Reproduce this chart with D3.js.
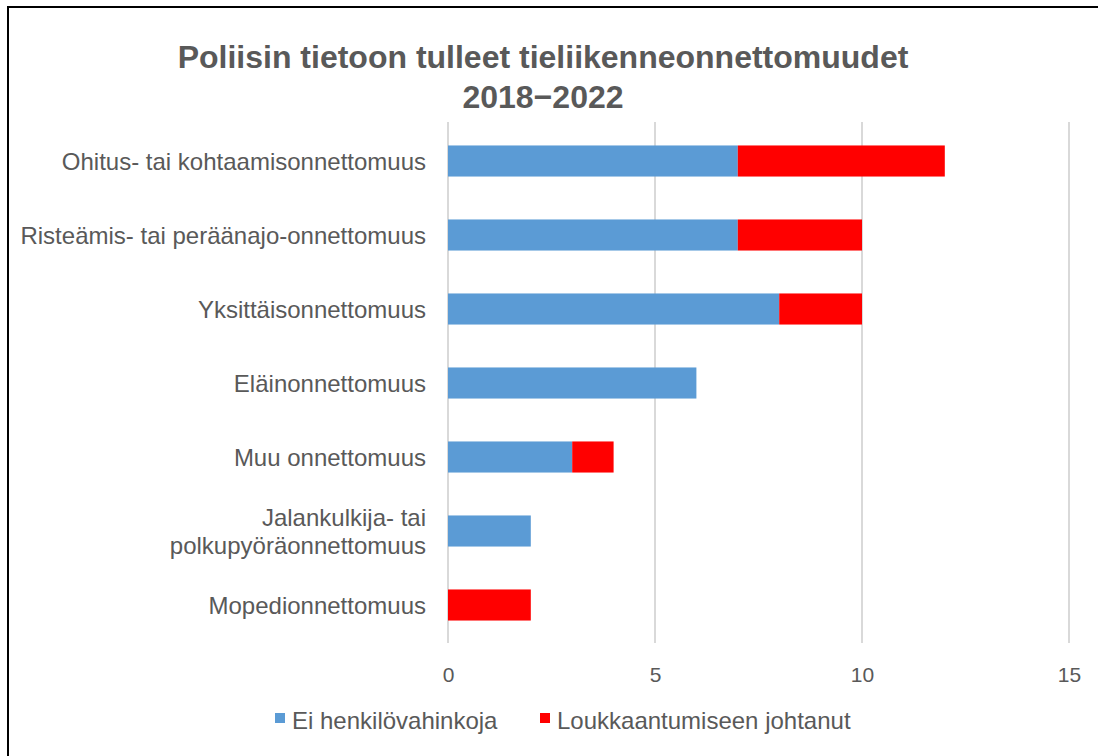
<!DOCTYPE html>
<html>
<head>
<meta charset="utf-8">
<script src="https://cdn.jsdelivr.net/npm/d3@7"></script>
<style>
  body { margin: 0; background: #fff; }
  svg { display: block; font-family: "Liberation Sans", Arial, sans-serif; }
</style>
</head>
<body>
<div id="chart"></div>
<script>
// data
var categories = [
    "Ohitus- tai kohtaamisonnettomuus",
    "Risteämis- tai peräänajo-onnettomuus",
    "Yksittäisonnettomuus",
    "Eläinonnettomuus",
    "Muu onnettomuus",
    "Jalankulkija- tai|polkupyöräonnettomuus",
    "Mopedionnettomuus"
];
var noInjury = [7, 7, 8, 6, 3, 2, 0];
var injury = [5, 3, 2, 0, 1, 0, 2];
var seriesNames = ["Ei henkilövahinkoja", "Loukkaantumiseen johtanut"];
var seriesColors = ["#5b9bd5", "#ff0000"];
var xTicks = [0, 5, 10, 15];

var W = 1098, H = 756;
var margin = { top: 124, right: 29, bottom: 114, left: 448 },
    width = W - margin.left - margin.right,
    height = H - margin.top - margin.bottom;

var svg = d3.select("#chart").append("svg")
    .attr("width", W)
    .attr("height", H);

// outer frame
svg.append("rect")
    .attr("x", 8).attr("y", 7)
    .attr("width", W).attr("height", H)
    .attr("fill", "none")
    .attr("stroke", "#000")
    .attr("stroke-width", 2);

// title
var title = svg.append("text")
    .attr("text-anchor", "middle")
    .attr("fill", "#595959")
    .style("font-size", "32px")
    .style("font-weight", "bold");
title.append("tspan").attr("x", 543).attr("y", 68).text("Poliisin tietoon tulleet tieliikenneonnettomuudet");
title.append("tspan").attr("x", 543).attr("y", 108).text("2018\u22122022");

var g = svg.append("g")
    .attr("transform", "translate(" + margin.left + "," + margin.top + ")");

var x = d3.scaleLinear().domain([0, 15]).range([0, width]);
var y = d3.scaleBand().domain(categories).range([0, height]).paddingInner(0.58).paddingOuter(0.29);

// gridlines
g.append("g")
    .selectAll("line")
    .data(xTicks)
    .enter().append("line")
    .attr("x1", function (d) { return x(d); })
    .attr("x2", function (d) { return x(d); })
    .attr("y1", -2)
    .attr("y2", height + 1)
    .attr("stroke", "#d9d9d9")
    .attr("stroke-width", 2);

// stacked bars
var rows = categories.map(function (c, i) {
    return { cat: c, a: noInjury[i], b: injury[i] };
});
var stack = d3.stack().keys(["a", "b"])(rows);

g.selectAll(".series")
    .data(stack)
    .enter().append("g")
    .attr("fill", function (d, i) { return seriesColors[i]; })
    .selectAll("rect")
    .data(function (d) { return d; })
    .enter().append("rect")
    .attr("x", function (d) { return x(d[0]); })
    .attr("y", function (d) { return y(d.data.cat); })
    .attr("width", function (d) { return x(d[1]) - x(d[0]); })
    .attr("height", y.bandwidth());

// x axis
var xAxis = g.append("g")
    .attr("transform", "translate(0," + height + ")")
    .call(d3.axisBottom(x).tickValues(xTicks).tickSize(0));
xAxis.select(".domain").remove();
xAxis.selectAll("text")
    .attr("y", 40)
    .attr("dy", 0)
    .attr("fill", "#595959")
    .style("font-size", "21px")
    .style("font-family", "'Liberation Sans', Arial, sans-serif");

// category labels (| marks a line break)
g.append("g")
    .selectAll("text")
    .data(categories)
    .enter().append("text")
    .attr("text-anchor", "end")
    .attr("fill", "#595959")
    .style("font-size", "24px")
    .attr("y", function (d) { return y(d) + y.bandwidth() / 2; })
    .each(function (d) {
        var lines = d.split("|");
        var el = d3.select(this);
        lines.forEach(function (t, k) {
            el.append("tspan")
                .attr("x", -22)
                .attr("dy", k === 0 ? (9 - (lines.length - 1) * 14) : 28)
                .text(t);
        });
    });

// legend
var legendX = [275, 540];
var legend = svg.append("g");
seriesNames.forEach(function (name, i) {
    legend.append("rect")
        .attr("x", legendX[i]).attr("y", 713)
        .attr("width", 10).attr("height", 10)
        .attr("fill", seriesColors[i]);
    legend.append("text")
        .attr("x", legendX[i] + 17).attr("y", 729)
        .attr("fill", "#595959")
        .style("font-size", "24px")
        .text(name);
});
</script>
</body>
</html>
